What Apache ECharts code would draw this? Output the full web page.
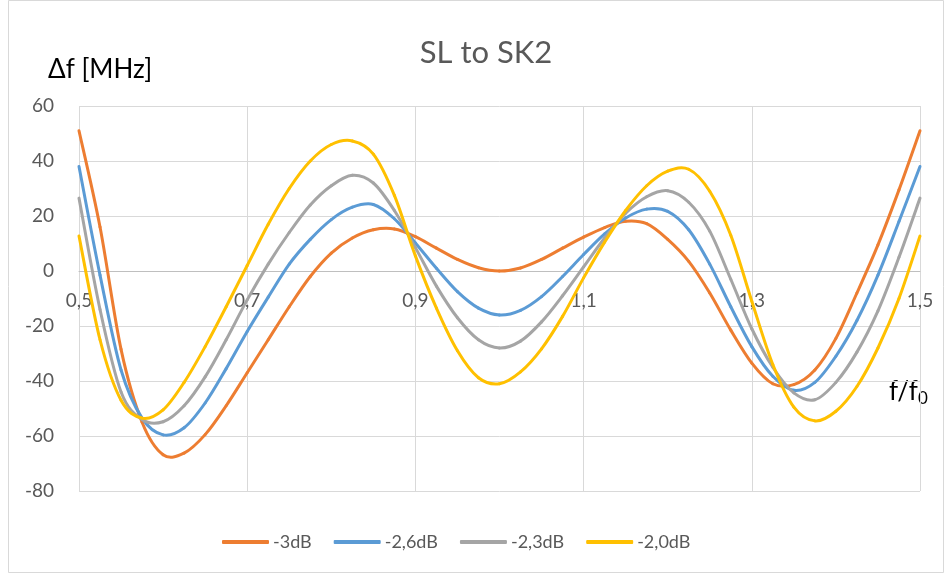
<!DOCTYPE html>
<html><head><meta charset="utf-8">
<script src="https://cdn.jsdelivr.net/npm/echarts@6/dist/echarts.min.js"></script>
<style>html,body{margin:0;padding:0;background:#fff}#c{width:952px;height:575px}</style>
</head><body><div id="c"></div>
<script>
// ---- data ----
const xValues = [0.5,0.525,0.55,0.575,0.6,0.625,0.65,0.675,0.7,0.725,0.75,0.775,0.8,0.825,0.85,0.875,0.9,0.925,0.95,0.975,1.0,1.025,1.05,1.075,1.1,1.125,1.15,1.175,1.2,1.225,1.25,1.275,1.3,1.325,1.35,1.375,1.4,1.425,1.45,1.475,1.5];
const seriesNames = ['-3dB','-2,6dB','-2,3dB','-2,0dB'];
const values3dB  = [51,16,-28.5,-55,-66.8,-66.2,-59.5,-49,-37,-25,-13,-2,6.5,12,15,15.3,12.5,8.3,4.2,1.2,0,1.1,4.2,8.3,12.3,15.8,18.1,17.2,11.5,3.5,-8,-21.5,-33.5,-41,-41.3,-36,-24.5,-8,9.5,29.5,51];
const values26dB = [38,-1.5,-36,-53.5,-59.6,-57,-48,-35.5,-22,-9.5,2.5,11.5,18.7,23.2,24.2,19,10.2,1,-7.5,-13.5,-16,-14.3,-9.3,-2,6,13.5,19.3,22.5,21.7,15,2.5,-13,-27.5,-38.3,-43.4,-40.5,-31,-18,-1.5,18,38];
const values23dB = [26.5,-14,-44,-54,-54.8,-49,-38.5,-25,-10.5,2.5,14,24,31,34.8,32,22,8.5,-5.5,-17,-25,-28,-25.5,-18.5,-9,1.5,12,21,27,29.2,25,14.5,-3,-21,-35,-44.3,-46.8,-40.5,-29.5,-14.5,5,26.5];
const values20dB = [12.7,-25,-47,-53.5,-50.5,-40.5,-27.5,-13,2,17,30,40,46,47.3,42.5,27.5,5.5,-13.5,-29,-38.8,-41,-36.7,-28.3,-16.5,-2.5,10.5,22,31,36.3,37,29,13,-11,-34,-49.5,-54.5,-51,-42,-28,-10,12.7];
const xTickMin = 0.5, xTickMax = 1.5, xTickStep = 0.2;
const yTickMin = -80, yTickMax = 60, yTickStep = 20;
const seriesColors = ['#ED7D31','#5B9BD5','#A5A5A5','#FFC000'];
const allValues = [values3dB, values26dB, values23dB, values20dB];

const FONT = 'Lato, "Noto Sans", sans-serif';
const GRID = {left:79, right:32, top:106, bottom:84};
const plotH = 575 - GRID.top - GRID.bottom;
const zeroOffset = -plotH * (0 - yTickMin) / (yTickMax - yTickMin);

// smooth curve through the data points, positioned by the chart's own axes (api.coord)
function curveSeries(name, color, ys) {
  return {
    name, type:'custom', coordinateSystem:'cartesian2d',
    data: xValues.map((x,k)=>[x, ys[k]]),
    encode:{x:0, y:1},
    itemStyle:{color},
    silent:true,
    renderItem(params, api) {
      if (params.dataIndex !== 0) return null;
      const P = xValues.map((x,k)=>api.coord([x, ys[k]]));
      const n = P.length, children = [];
      for (let i=0;i<n-1;i++){
        const p0 = P[i>0?i-1:i], p1 = P[i], p2 = P[i+1], p3 = P[i+2<n?i+2:i+1];
        children.push({type:'bezierCurve', shape:{
          x1:p1[0], y1:p1[1], x2:p2[0], y2:p2[1],
          cpx1:p1[0]+(p2[0]-p0[0])/6, cpy1:p1[1]+(p2[1]-p0[1])/6,
          cpx2:p2[0]-(p3[0]-p1[0])/6, cpy2:p2[1]-(p3[1]-p1[1])/6},
          style:{fill:null, stroke:color, lineWidth:3, lineCap:'round'}});
      }
      return {type:'group', children};
    }
  };
}

const chart = echarts.init(document.getElementById('c'), null, {renderer:'canvas'});
chart.setOption({
  animation:false,
  backgroundColor:'#fff',
  color:seriesColors,
  grid:Object.assign({containLabel:false}, GRID),
  xAxis:{type:'value', min:xTickMin, max:xTickMax, interval:xTickStep, position:'bottom', offset:zeroOffset,
    axisLine:{onZero:false, lineStyle:{color:'#bfbfbf', width:1}},
    axisTick:{show:false},
    axisLabel:{color:'#595959', fontSize:19, fontFamily:FONT, margin:20,
      formatter:v=>v.toFixed(1).replace('.',','), showMinLabel:true, showMaxLabel:true},
    splitLine:{show:true, lineStyle:{color:'#d9d9d9', width:1}}},
  yAxis:{type:'value', min:yTickMin, max:yTickMax, interval:yTickStep,
    axisLine:{show:false}, axisTick:{show:false},
    axisLabel:{color:'#595959', fontSize:19, fontFamily:FONT, margin:25},
    splitLine:{show:true, lineStyle:{color:'#d9d9d9', width:1}}},
  legend:{bottom:19, left:217, itemWidth:47, itemHeight:4, itemGap:22, icon:'roundRect',
    textStyle:{color:'#595959', fontSize:18, fontFamily:FONT, padding:[0,0,0,-1]},
    data:seriesNames},
  graphic:[
    {type:'rect', shape:{x:8.5, y:0.5, width:935, height:572}, style:{fill:null, stroke:'#d9d9d9', lineWidth:1}, z:-1, silent:true},
    {type:'text', style:{text:'SL to SK2', x:486, y:53, textAlign:'center', textVerticalAlign:'middle', fontSize:31, fontFamily:FONT, fill:'#595959'}},
    {type:'text', style:{text:'Δf [MHz]', x:48, y:70, textAlign:'left', textVerticalAlign:'middle', fontSize:26, fontFamily:FONT, fill:'#000'}},
    {type:'text', style:{text:'{a|f/f}{b|0}', x:889, y:392, textAlign:'left', textVerticalAlign:'middle',
      rich:{a:{fontSize:26, fontFamily:FONT, color:'#000'}, b:{fontSize:17, fontFamily:FONT, color:'#000', padding:[14,0,0,0]}}}}
  ],
  series: seriesNames.map((n,i)=>curveSeries(n, seriesColors[i], allValues[i]))
});
</script></body></html>
